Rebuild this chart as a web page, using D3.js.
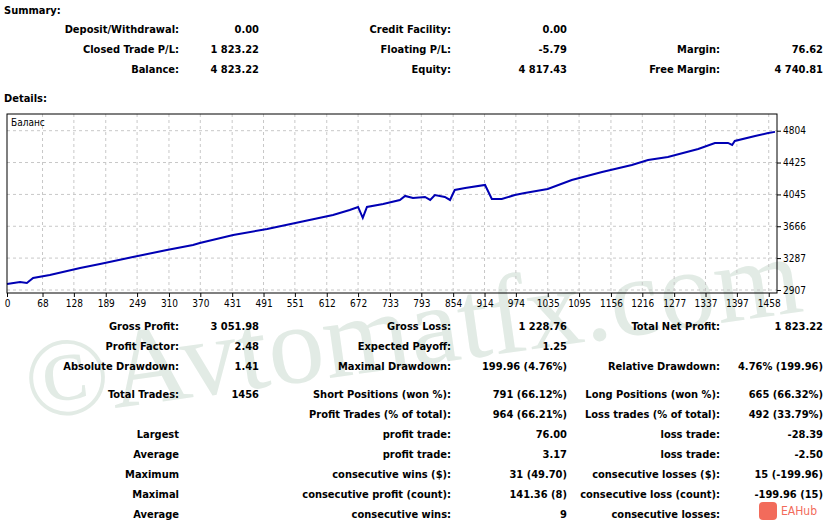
<!DOCTYPE html>
<html><head><meta charset="utf-8">
<script src="https://cdn.jsdelivr.net/npm/d3@7"></script>
<style>body{margin:0;background:#fff}svg{display:block}text{font-family:"DejaVu Sans Condensed","DejaVu Sans",sans-serif;font-weight:bold;font-size:11px;fill:#000}</style>
</head><body><svg id="c" width="830" height="524"></svg>
<script>
// balance curve: trade number / balance
var trades = [0,25,38,50,82,140,178,241,306,356,369,433,498,561,624,656,672,681,689,720,752,762,777,800,810,819,838,848,857,877,915,928,947,972,991,1035,1081,1139,1196,1227,1265,1323,1355,1380,1388,1393,1432,1457,1470];
var balance = [2978,3002,2990,3050,3086,3169,3217,3300,3383,3443,3467,3562,3634,3717,3800,3860,3896,3765,3896,3931,3979,4027,4003,4015,3979,4038,4015,3979,4098,4122,4158,3991,3991,4038,4062,4110,4217,4312,4396,4455,4491,4586,4658,4658,4634,4682,4741,4777,4790];
var xTicks = [0,68,128,189,249,310,370,431,491,551,612,672,733,793,854,914,974,1035,1095,1156,1216,1277,1337,1397,1458];
var yTicks = [2907,3287,3666,4045,4425,4804];

var summaryRows = [
  ["Deposit/Withdrawal:","0.00","Credit Facility:","0.00","",""],
  ["Closed Trade P/L:","1 823.22","Floating P/L:","-5.79","Margin:","76.62"],
  ["Balance:","4 823.22","Equity:","4 817.43","Free Margin:","4 740.81"]
];
var detailRows = [
  ["Gross Profit:","3 051.98","Gross Loss:","1 228.76","Total Net Profit:","1 823.22"],
  ["Profit Factor:","2.48","Expected Payoff:","1.25","",""],
  ["Absolute Drawdown:","1.41","Maximal Drawdown:","199.96 (4.76%)","Relative Drawdown:","4.76% (199.96)"],
  ["Total Trades:","1456","Short Positions (won %):","791 (66.12%)","Long Positions (won %):","665 (66.32%)"],
  ["","","Profit Trades (% of total):","964 (66.21%)","Loss trades (% of total):","492 (33.79%)"],
  ["Largest","","profit trade:","76.00","loss trade:","-28.39"],
  ["Average","","profit trade:","3.17","loss trade:","-2.50"],
  ["Maximum","","consecutive wins ($):","31 (49.70)","consecutive losses ($):","15 (-199.96)"],
  ["Maximal","","consecutive profit (count):","141.36 (8)","consecutive loss (count):","-199.96 (15)"],
  ["Average","","consecutive wins:","9","consecutive losses:",""]
];
var detailY = [326,346,366,394,414,434,454,474,494,514];
var colRight = [179,259,451,567,720,823];

var svg = d3.select("#c");

// watermark
svg.append("text").attr("x",30).attr("y",420).attr("transform","rotate(-8,30,420)")
  .style("font-family","Liberation Serif,serif").style("font-weight","normal").style("font-size","112px")
  .style("fill","#e2ebe5").text("©Avtomatfx.com");

svg.append("text").attr("x",4).attr("y",14).text("Summary:");
svg.append("text").attr("x",4).attr("y",102).text("Details:");

function rows(data, ys) {
  data.forEach(function(r, i) {
    r.forEach(function(t, j) {
      if (!t) return;
      svg.append("text").attr("x",colRight[j]).attr("y",ys[i]+4).attr("text-anchor","end").text(t);
    });
  });
}
rows(summaryRows,[29,49,69]);
rows(detailRows,detailY);

// chart
var pL = 7, pR = 777, pT = 114, pB = 293;
var x = d3.scaleLinear().domain([0,1470]).range([pL,775]);
var y = d3.scaleLinear().domain([2907,4804]).range([290,130.7]);

var g = svg.append("g");
g.selectAll(".gx").data(xTicks.slice(1)).enter().append("line")
  .attr("x1",function(d){return x(d)}).attr("x2",function(d){return x(d)})
  .attr("y1",pT).attr("y2",pB).attr("stroke","#c8c8c8").attr("stroke-dasharray","3,3");
g.selectAll(".gy").data(yTicks).enter().append("line")
  .attr("x1",pL).attr("x2",pR).attr("y1",function(d){return y(d)}).attr("y2",function(d){return y(d)})
  .attr("stroke","#c8c8c8").attr("stroke-dasharray","3,3");

var pts = trades.map(function(t,i){return [t,balance[i]]});
g.append("path").datum(pts).attr("fill","none").attr("stroke","#0000b4").attr("stroke-width",2)
  .attr("d",d3.line().x(function(d){return x(d[0])}).y(function(d){return y(d[1])}));

g.append("rect").attr("x",pL).attr("y",pT).attr("width",pR-pL).attr("height",pB-pT)
  .attr("fill","none").attr("stroke","#000");
g.append("text").attr("x",11).attr("y",126).style("font-weight","normal").style("font-size","10px").text("Баланс");

var xa = svg.append("g").attr("transform","translate(0,"+pB+")")
  .call(d3.axisBottom(x).tickValues(xTicks).tickSize(4).tickFormat(d3.format("d")));
var ya = svg.append("g").attr("transform","translate("+pR+",0)")
  .call(d3.axisRight(y).tickValues(yTicks).tickSize(4).tickFormat(d3.format("d")));
[xa,ya].forEach(function(a){
  a.select(".domain").remove();
  a.selectAll("text").style("font-weight","normal").style("font-size","10px").attr("fill","#000");
});
ya.selectAll("text").attr("x",6);

// EAHub badge
var b = svg.append("g").attr("transform","translate(768,511)");
b.append("rect").attr("x",-9).attr("y",-9).attr("width",18).attr("height",18).attr("rx",4).attr("fill","#f26b5b");
b.append("text").attr("x",13).attr("y",4).style("font-weight","normal").style("font-size","12px").style("fill","#f26b5b").text("EAHub");
</script></body></html>
